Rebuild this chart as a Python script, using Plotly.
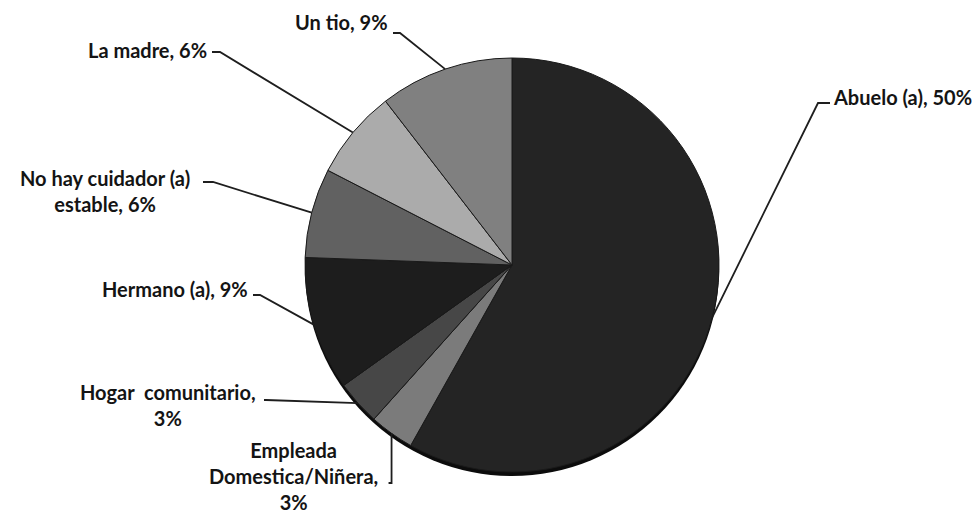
import math
import plotly.graph_objects as go

# Who looks after the child (percent of respondents)
categories = [
    "Abuelo (a)",
    "Empleada<br>Domestica/Niñera",
    "Hogar  comunitario",
    "Hermano (a)",
    "No hay cuidador (a)<br>estable",
    "La madre",
    "Un tio",
]
values = [50, 3, 3, 9, 6, 6, 9]
# separator between name and value in each label
label_seps = [", ", ",<br>", ",<br>", ", ", ", ", ", ", ", "]
colors = ["#242424", "#7b7b7b", "#474747", "#1d1d1d", "#616161", "#ababab", "#808080"]

W, H = 979, 517
cx, cy, r = 512, 265, 207          # pie centre and radius in pixels

# label anchor (px), anchors, and elbow points of the leader lines (px)
label_pos = [
    dict(x=831, y=97, xanchor="left", yanchor="middle"),
    dict(x=293, y=476, xanchor="center", yanchor="middle"),
    dict(x=168, y=405, xanchor="center", yanchor="middle"),
    dict(x=250, y=289, xanchor="right", yanchor="middle"),
    dict(x=105, y=191, xanchor="center", yanchor="middle"),
    dict(x=209, y=50, xanchor="right", yanchor="middle"),
    dict(x=390, y=22, xanchor="right", yanchor="middle"),
]
leader_starts = [(830, 103), None, (264, 400), (253, 295), (203, 182), (212, 52), (393, 33)]
leader_elbows = [(818, 103), None, (266, 400), (260, 295), (213, 182), (220, 52), (400, 33)]


def px_to_paper(x, y):
    return x / W, 1 - y / H


# mid-angle of each slice (clockwise from 12 o'clock) -> point on the rim
total = sum(values)
rim_points = []
acc = 0.0
for v in values:
    mid = (acc + v / 2) / total * 2 * math.pi
    rim_points.append((cx + r * math.sin(mid), cy - r * math.cos(mid)))
    acc += v

fig = go.Figure()

# dark rim underneath for the depth effect
depth = 4
fig.add_trace(go.Pie(
    values=[1], labels=[""], sort=False, textinfo="none", hoverinfo="skip",
    marker=dict(colors=["#0c0c0c"]), showlegend=False,
    domain=dict(x=[(cx - r) / W, (cx + r) / W],
                y=[(H - cy - r - depth) / H, (H - cy + r - depth) / H]),
))

fig.add_trace(go.Pie(
    values=values, labels=categories, sort=False, direction="clockwise",
    rotation=0, textinfo="none", showlegend=False,
    marker=dict(colors=colors, line=dict(color="#1a1a1a", width=1)),
    domain=dict(x=[(cx - r) / W, (cx + r) / W],
                y=[(H - cy - r) / H, (H - cy + r) / H]),
))

annotations = []
shapes = []
for i, (cat, v, sep) in enumerate(zip(categories, values, label_seps)):
    p = label_pos[i]
    ax, ay = px_to_paper(p["x"], p["y"])
    annotations.append(dict(
        x=ax, y=ay, xref="paper", yref="paper", showarrow=False,
        text=f"{cat}{sep}{v}%", xanchor=p["xanchor"], yanchor=p["yanchor"],
        align="center", font=dict(family="Lato", size=20, color="#141414", weight="bold"),
    ))
    ex, ey = rim_points[i]
    if leader_starts[i] is None:
        pts = [(ex, ey), (ex, 483), (ex - 3, 483)]
    else:
        pts = [leader_starts[i], leader_elbows[i], (ex, ey)]
    path = "M " + " L ".join(
        "{:.5f},{:.5f}".format(*px_to_paper(x, y)) for x, y in pts)
    shapes.append(dict(type="path", xref="paper", yref="paper", path=path,
                       line=dict(color="#1e1e1e", width=1.8)))

fig.update_layout(
    width=W, height=H, margin=dict(l=0, r=0, t=0, b=0),
    paper_bgcolor="white", plot_bgcolor="white",
    annotations=annotations, shapes=shapes, showlegend=False,
)

fig.write_html("out.html")
